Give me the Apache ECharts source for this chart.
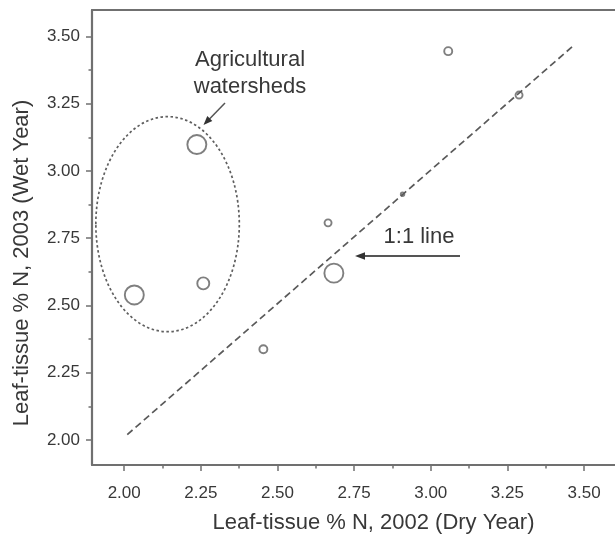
<!DOCTYPE html>
<html>
<head>
<meta charset="utf-8">
<script src="https://cdn.jsdelivr.net/npm/echarts@6/dist/echarts.min.js"></script>
<style>
html,body{margin:0;padding:0;background:#fff;}
#chart{width:615px;height:539px;}
</style>
</head>
<body>
<div id="chart"></div>
<script>
// ---- data ----
const dryYearN = [2.033, 2.258, 2.237, 2.454, 2.665, 2.908, 3.057, 3.288, 2.684];
const wetYearN = [2.539, 2.582, 3.098, 2.337, 2.807, 2.913, 3.445, 3.282, 2.620];
const bubbleSize = [19, 12, 19, 8, 7, 3.5, 8, 7, 19];
const oneToOneX = [2.01, 3.47];
const oneToOneY = [2.02, 3.47];
const majorTicks = [2.00, 2.25, 2.50, 2.75, 3.00, 3.25, 3.50];
const minorTicks = [2.125, 2.375, 2.625, 2.875, 3.125, 3.375];
const xTitle = 'Leaf-tissue % N, 2002 (Dry Year)';
const yTitle = 'Leaf-tissue % N, 2003 (Wet Year)';
const groupLabel = 'Agricultural\nwatersheds';
const lineLabel = '1:1 line';
// ellipse around agricultural watersheds (data units)
const ellipseCenter = [2.1415, 2.802];
const ellipseRadii = [0.234, 0.3996];

const FONT = '"Liberation Sans", Arial, sans-serif';
const AXIS_COLOR = '#707070';
const TEXT_COLOR = '#383838';
const X_RANGE = [1.895, 3.601];
const Y_RANGE = [1.907, 3.598];

function majorAxis(pos, name, range, extra) {
  return Object.assign({
    type: 'value', position: pos, min: range[0], max: range[1],
    axisLine: {show: true, onZero: false, lineStyle: {color: AXIS_COLOR, width: 2.2}},
    axisTick: {show: true, customValues: majorTicks, length: 6, lineStyle: {color: AXIS_COLOR, width: 1.5}},
    splitLine: {show: false},
    name: name, nameLocation: 'middle'
  }, extra);
}
function minorAxis(pos, range) {
  return {
    type: 'value', position: pos, min: range[0], max: range[1],
    axisLine: {show: false, onZero: false},
    axisTick: {show: true, customValues: minorTicks, length: 3.5, lineStyle: {color: AXIS_COLOR, width: 1.5}},
    axisLabel: {show: false}, splitLine: {show: false}
  };
}
function tickLabel(margin) {
  return {show: true, customValues: majorTicks, formatter: v => v.toFixed(2),
    color: TEXT_COLOR, fontFamily: FONT, fontSize: 17, margin: margin};
}

const chart = echarts.init(document.getElementById('chart'), null, {renderer: 'canvas'});
const option = {
  animation: false,
  backgroundColor: '#fff',
  grid: {left: 92, top: 10, width: 527, height: 462, containLabel: false},
  xAxis: [
    majorAxis('bottom', xTitle, X_RANGE, {nameGap: 47,
      nameTextStyle: {color: TEXT_COLOR, fontFamily: FONT, fontSize: 22, padding: [0, 0, 0, 40]},
      axisLabel: tickLabel(20)}),
    minorAxis('bottom', X_RANGE),
    {type: 'value', position: 'top', min: X_RANGE[0], max: X_RANGE[1],
     axisLine: {show: true, onZero: false, lineStyle: {color: AXIS_COLOR, width: 2.2}},
     axisTick: {show: false}, axisLabel: {show: false}, splitLine: {show: false}}
  ],
  yAxis: [
    majorAxis('left', yTitle, Y_RANGE, {nameGap: 59,
      nameTextStyle: {color: TEXT_COLOR, fontFamily: FONT, fontSize: 22, padding: [0, 51, 0, 0]},
      axisLabel: tickLabel(12)}),
    minorAxis('left', Y_RANGE)
  ],
  series: [
    {
      type: 'line', xAxisIndex: 0, yAxisIndex: 0,
      data: oneToOneX.map((x, i) => [x, oneToOneY[i]]),
      symbol: 'none', silent: true,
      lineStyle: {color: '#5a5a5a', width: 1.7, type: [7, 4]}
    },
    {
      type: 'scatter', xAxisIndex: 0, yAxisIndex: 0,
      data: dryYearN.map((x, i) => [x, wetYearN[i], bubbleSize[i]]),
      symbol: 'circle',
      symbolSize: d => d[2],
      itemStyle: {color: 'rgba(255,255,255,0)', borderColor: '#5f5f5f', borderWidth: 1.9}
    }
  ]
};
chart.setOption(option);

function arrowHead(tip, from, len, half) {
  const dx = tip[0] - from[0], dy = tip[1] - from[1];
  const L = Math.sqrt(dx * dx + dy * dy);
  const ux = dx / L, uy = dy / L;
  const bx = tip[0] - ux * len, by = tip[1] - uy * len;
  return [tip, [bx - uy * half, by + ux * half], [bx + uy * half, by - ux * half]];
}

const c = chart.convertToPixel({xAxisIndex: 0, yAxisIndex: 0}, ellipseCenter);
const e = chart.convertToPixel({xAxisIndex: 0, yAxisIndex: 0},
  [ellipseCenter[0] + ellipseRadii[0], ellipseCenter[1] + ellipseRadii[1]]);

const agFrom = [225, 103], agTip = [203.5, 125];
const lnFrom = [460, 256], lnTip = [355, 256];

chart.setOption({
  graphic: [
    {type: 'ellipse', shape: {cx: c[0], cy: c[1], rx: Math.abs(e[0] - c[0]), ry: Math.abs(c[1] - e[1])},
     style: {fill: null, stroke: '#5f5f5f', lineWidth: 1.7, lineDash: [2.5, 2.5]}, silent: true},
    {type: 'text', x: 250, y: 73.5,
     style: {text: groupLabel, fill: TEXT_COLOR, font: '22px ' + FONT, align: 'center', verticalAlign: 'middle', lineHeight: 27}},
    {type: 'line', shape: {x1: agFrom[0], y1: agFrom[1], x2: agTip[0] + 4, y2: agTip[1] - 4},
     style: {stroke: '#555', lineWidth: 1.5}},
    {type: 'polygon', shape: {points: arrowHead(agTip, agFrom, 9, 3.5)}, style: {fill: '#333'}},
    {type: 'text', x: 419, y: 236.7,
     style: {text: lineLabel, fill: TEXT_COLOR, font: '22px ' + FONT, align: 'center', verticalAlign: 'middle'}},
    {type: 'line', shape: {x1: lnFrom[0], y1: lnFrom[1], x2: lnTip[0] + 6, y2: lnTip[1]},
     style: {stroke: '#555', lineWidth: 1.8}},
    {type: 'polygon', shape: {points: arrowHead(lnTip, lnFrom, 10, 3.8)}, style: {fill: '#333'}}
  ]
});
</script>
</body>
</html>
